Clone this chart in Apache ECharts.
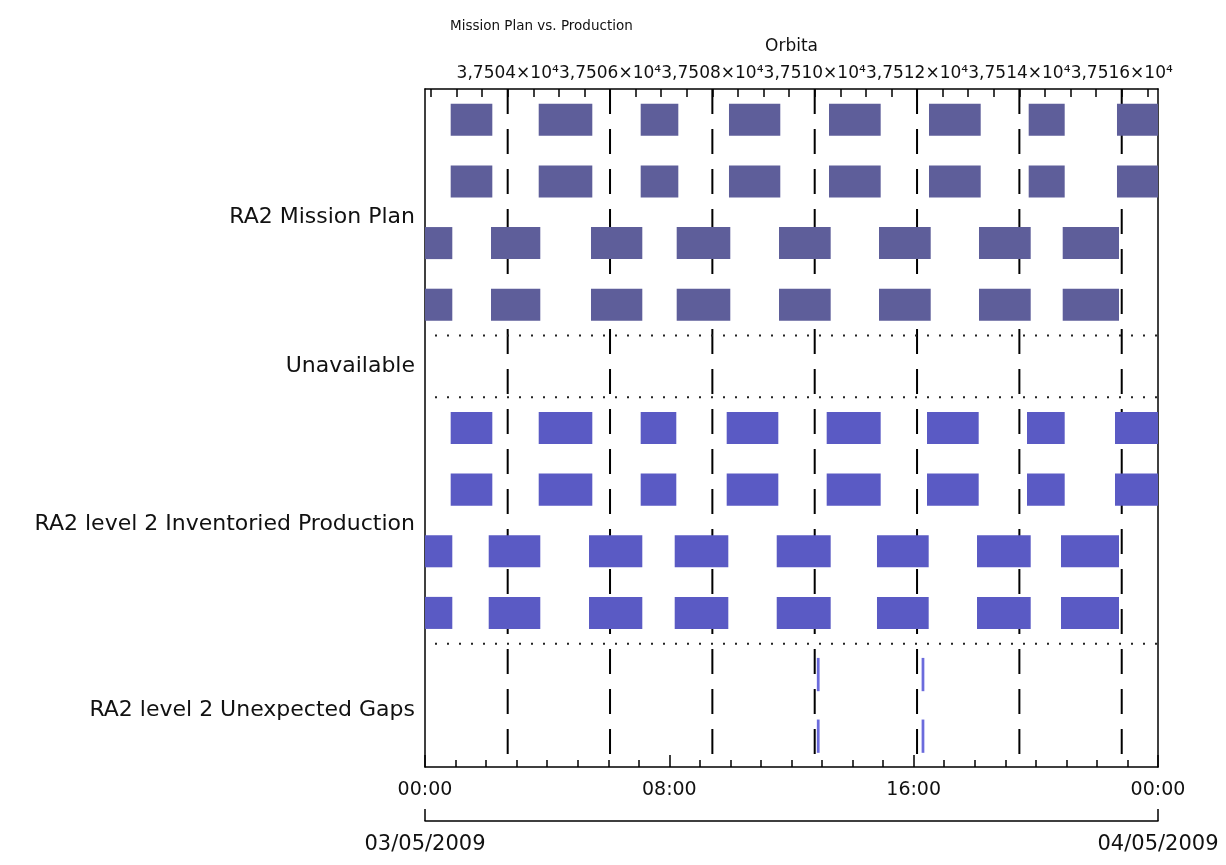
<!DOCTYPE html>
<html>
<head>
<meta charset="utf-8">
<script src="https://cdn.jsdelivr.net/npm/echarts@6/dist/echarts.min.js"></script>
<style>html,body{margin:0;padding:0;background:#fff;}#c{width:1226px;height:865px;}</style>
</head>
<body>
<div id="c"></div>
<script>
// ---- data (hours of day on 03/05/2009) ----
const titleText = 'Mission Plan vs. Production';
const sectionLabels = ['RA2 Mission Plan', 'Unavailable', 'RA2 level 2 Inventoried Production', 'RA2 level 2 Unexpected Gaps'];
const sectionLabelPos = [2.08, 4.5, 7.06, 10.08];
const sectionDividers = [4, 5, 9];
const timeLabels = ['00:00', '08:00', '16:00', '00:00'];
const dateLabels = ['03/05/2009', '04/05/2009'];
const orbitMajor = [37504, 37506, 37508, 37510, 37512, 37514, 37516];
const orbitMinor = [37502.5, 37503, 37503.5, 37504, 37504.5, 37505, 37505.5, 37506, 37506.5, 37507, 37507.5, 37508, 37508.5, 37509, 37509.5, 37510, 37510.5, 37511, 37511.5, 37512, 37512.5, 37513, 37513.5, 37514, 37514.5, 37515, 37515.5, 37516, 37516.5];
const orbitStart = 37502.384;
const orbitEnd = 37516.709;

// Mission plan passes (start h, end h)
const planPassA = [[0.841, 2.204], [3.723, 5.478], [7.062, 8.294], [9.953, 11.633], [13.228, 14.920], [16.502, 18.195], [19.766, 20.945], [22.657, 24.0]];
const planPassB = [[0.0, 0.894], [2.161, 3.775], [5.435, 7.115], [8.241, 9.996], [11.591, 13.283], [14.865, 16.558], [18.139, 19.832], [20.880, 22.723]];
// Inventoried production
const prodPassA = [[0.841, 2.204], [3.723, 5.478], [7.062, 8.228], [9.878, 11.568], [13.152, 14.920], [16.437, 18.129], [19.711, 20.945], [22.592, 24.0]];
const prodPassB = [[0.0, 0.894], [2.086, 3.775], [5.370, 7.115], [8.176, 9.931], [11.516, 13.283], [14.799, 16.492], [18.074, 19.832], [20.824, 22.723]];
// Unexpected gaps
const gapIntervals = [[12.83, 12.92], [16.26, 16.35]];

const planRows = [[0, 1], [2, 3]];
const prodRows = [[5, 6], [7, 8]];
const gapRows = [9, 10];

function build(intervals, rows) {
  const out = [];
  rows.forEach(r => intervals.forEach(iv => out.push([iv[0], iv[1], r + 0.5])));
  return out;
}
const planData = build(planPassA, planRows[0]).concat(build(planPassB, planRows[1]));
const prodData = build(prodPassA, prodRows[0]).concat(build(prodPassB, prodRows[1]));
const gapData = build(gapIntervals, gapRows);

const FONT = 'DejaVu Sans';
const chart = echarts.init(document.getElementById('c'), null, {renderer: 'canvas'});

function barRenderer(color, frac) {
  return function (params, api) {
    const s = api.coord([api.value(0), api.value(2)]);
    const e = api.coord([api.value(1), api.value(2)]);
    const h = api.size([0, frac])[1];
    const cs = params.coordSys;
    const r = echarts.graphic.clipRectByRect(
      {x: s[0], y: s[1] - h / 2, width: e[0] - s[0], height: h},
      {x: cs.x, y: cs.y, width: cs.width, height: cs.height});
    return r && {type: 'rect', shape: r, style: {fill: color}};
  };
}

const axisLineStyle = {color: '#000', width: 1.5};

const option = {
  backgroundColor: '#fff',
  animation: false,
  title: {
    text: titleText, left: 445, top: 14,
    textStyle: {fontFamily: FONT, fontSize: 13.5, fontWeight: 'normal', color: '#111'}
  },
  grid: {left: 425, top: 89, width: 733, height: 678, containLabel: false},
  xAxis: [
    {
      type: 'value', position: 'bottom', min: 0, max: 24, interval: 8,
      axisLine: {show: true, onZero: false, lineStyle: axisLineStyle},
      axisTick: {show: true, inside: true, length: 12, lineStyle: axisLineStyle},
      minorTick: {show: true, splitNumber: 8, length: 7, lineStyle: axisLineStyle},
      splitLine: {show: false}, minorSplitLine: {show: false},
      axisLabel: {
        margin: 14, fontFamily: FONT, fontSize: 19, color: '#111',
        formatter: v => timeLabels[Math.round(v / 8)]
      }
    },
    {
      type: 'value', position: 'bottom', offset: 54, min: 0, max: 24, interval: 24,
      axisLine: {show: true, onZero: false, lineStyle: axisLineStyle},
      axisTick: {show: true, inside: true, length: 12, lineStyle: axisLineStyle},
      splitLine: {show: false},
      axisLabel: {
        margin: 13, fontFamily: FONT, fontSize: 21, color: '#111',
        formatter: v => dateLabels[Math.round(v / 24)]
      }
    },
    {
      type: 'value', position: 'top', min: orbitStart, max: orbitEnd,
      name: 'Orbita', nameLocation: 'middle', nameGap: 34,
      nameTextStyle: {fontFamily: FONT, fontSize: 17, color: '#111'},
      axisLine: {show: true, onZero: false, lineStyle: axisLineStyle},
      axisTick: {show: true, inside: true, length: 8, customValues: orbitMinor, lineStyle: axisLineStyle},
      splitLine: {show: false},
      axisLabel: {
        margin: 7, fontFamily: FONT, fontSize: 17, color: '#111',
        customValues: orbitMajor,
        formatter: v => (v / 1e4).toFixed(4).replace('.', ',') + '\u00d710\u2074'
      }
    }
  ],
  yAxis: [
    {
      type: 'value', inverse: true, min: 0, max: 11, position: 'left',
      axisLine: {show: true, onZero: false, lineStyle: axisLineStyle},
      axisTick: {show: false}, splitLine: {show: false},
      axisLabel: {
        margin: 10, fontFamily: FONT, fontSize: 22, color: '#111',
        customValues: sectionLabelPos,
        formatter: v => {
          const i = sectionLabelPos.findIndex(p => Math.abs(p - v) < 1e-6);
          return i >= 0 ? sectionLabels[i] : '';
        }
      }
    },
    {
      type: 'value', inverse: true, min: 0, max: 11, position: 'right',
      axisLine: {show: true, onZero: false, lineStyle: axisLineStyle},
      axisTick: {show: false}, splitLine: {show: false}, axisLabel: {show: false}
    }
  ],
  series: [
    {
      type: 'custom', name: 'orbitGrid', xAxisIndex: 2, yAxisIndex: 0, z: 1,
      silent: true, clip: false,
      data: orbitMajor.map(v => [v]),
      encode: {x: 0},
      renderItem: function (params, api) {
        const a = api.coord([api.value(0), 0]);
        const b = api.coord([api.value(0), 11]);
        return {type: 'line', shape: {x1: a[0], y1: a[1], x2: b[0], y2: b[1]},
          style: {stroke: '#000', lineWidth: 2, lineDash: [25, 15], lineDashOffset: 0}};
      }
    },
    {
      type: 'custom', name: 'dividers', xAxisIndex: 0, yAxisIndex: 0, z: 1,
      silent: true,
      data: sectionDividers.map(v => [v]),
      encode: {y: 0},
      renderItem: function (params, api) {
        const a = api.coord([0, api.value(0)]);
        const b = api.coord([24, api.value(0)]);
        return {type: 'line', shape: {x1: a[0], y1: a[1], x2: b[0], y2: b[1]},
          style: {stroke: '#222', lineWidth: 2, lineDash: [2, 10], lineDashOffset: 2}};
      }
    },
    {
      type: 'custom', name: 'RA2 Mission Plan', xAxisIndex: 0, yAxisIndex: 0, z: 3,
      data: planData, encode: {x: [0, 1], y: 2},
      renderItem: barRenderer('#5e5e9a', 0.52)
    },
    {
      type: 'custom', name: 'RA2 level 2 Inventoried Production', xAxisIndex: 0, yAxisIndex: 0, z: 3,
      data: prodData, encode: {x: [0, 1], y: 2},
      renderItem: barRenderer('#5a5ac4', 0.52)
    },
    {
      type: 'custom', name: 'RA2 level 2 Unexpected Gaps', xAxisIndex: 0, yAxisIndex: 0, z: 3,
      data: gapData, encode: {x: [0, 1], y: 2},
      renderItem: barRenderer('#6b6bdc', 0.54)
    }
  ]
};
chart.setOption(option);
</script>
</body>
</html>
